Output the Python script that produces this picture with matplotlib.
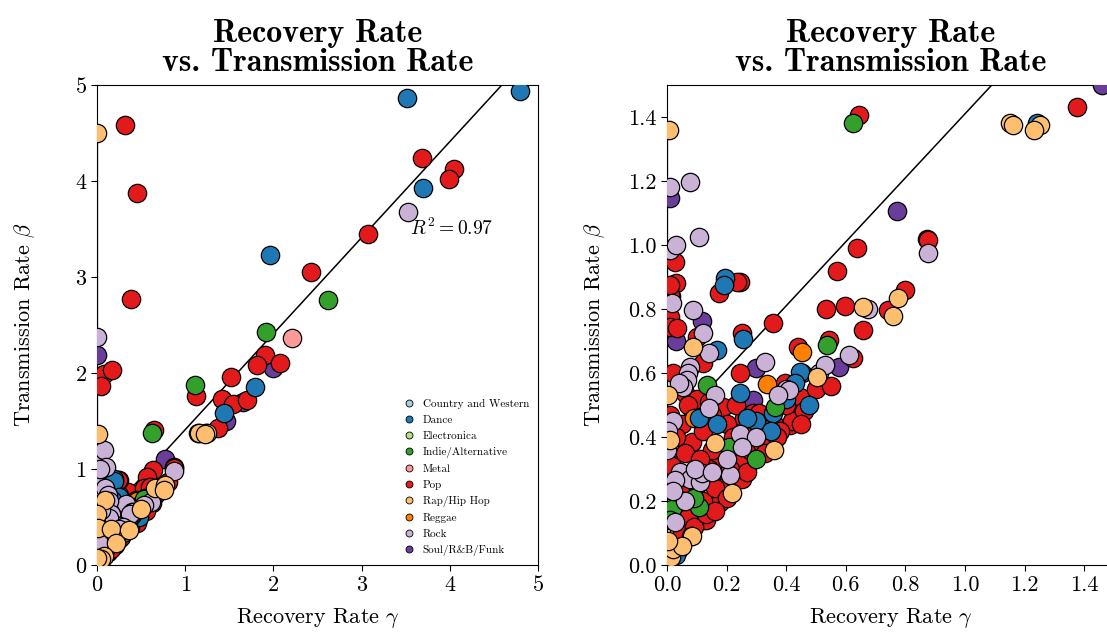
import matplotlib.pyplot as plt
from matplotlib.lines import Line2D

plt.rcParams['font.family'] = 'cmr10'
plt.rcParams['mathtext.fontset'] = 'cm'
plt.rcParams['axes.formatter.use_mathtext'] = True
plt.rcParams['axes.unicode_minus'] = False

# --- data: (gamma, beta) per genre ---
genres = ["Country and Western", "Dance", "Electronica", "Indie/Alternative", "Metal",
          "Pop", "Rap/Hip Hop", "Reggae", "Rock", "Soul/R&B/Funk"]
colors = ["#a6cee3", "#1f78b4", "#b2df8a", "#33a02c", "#fb9a99",
          "#e31a1c", "#fdbf6f", "#ff7f00", "#cab2d6", "#6a3d9a"]

country_gamma = [0.31, 0.02, 0.12]
country_beta = [0.353, 0.04, 0.14]

dance_gamma = [3.51, 4.80, 3.70, 1.96, 1.79, 1.44, 1.24, 0.195, 0.19, 0.255, 0.168, 0.453, 0.446,
               0.43, 0.245, 0.356, 0.477, 0.107, 0.168, 0.30, 0.35, 0.05, 0.40, 0.03, 0.27]
dance_beta = [4.86, 4.94, 3.93, 3.23, 1.85, 1.58, 1.38, 0.897, 0.875, 0.705, 0.672, 0.60, 0.603,
              0.568, 0.537, 0.474, 0.50, 0.459, 0.44, 0.45, 0.42, 0.20, 0.52, 0.03, 0.46]

electro_gamma = [0.005, 0.04]
electro_beta = [0.15, 0.10]

indie_gamma = [2.62, 1.92, 1.11, 0.624, 0.537, 0.134, 0.362, 0.208, 0.017, 0.107, 0.01, 0.09, 0.30]
indie_beta = [2.76, 2.43, 1.875, 1.38, 0.687, 0.563, 0.495, 0.37, 0.175, 0.18, 0.14, 0.21, 0.33]

metal_gamma = [2.21]
metal_beta = [2.36]

pop_gamma = [0.32, 0.45, 0.385, 3.68, 4.05, 3.99, 3.07, 2.43, 0.08, 0.17, 0.05, 1.90, 1.81, 2.07,
             1.12, 1.52, 1.42, 1.54, 1.70, 1.376, 0.644,
             0.872, 0.876, 0.637, 0.57, 0.356, 0.533, 0.597, 0.657, 0.80, 0.742, 0.544, 0.44,
             0.624, 0.245, 0.245, 0.25, 0.396, 0.027, 0.03, 0.013, 0.235, 0.176, 0.01, 0.01,
             0.10, 0.12, 0.01, 0.01,
             0.336, 0.29, 0.31, 0.188, 0.446, 0.413, 0.436, 0.42, 0.268, 0.178, 0.07, 0.13,
             0.034, 0.01, 0.084, 0.06, 0.088, 0.10, 0.07, 0.017, 0.05, 0.12, 0.15, 0.20, 0.22,
             0.18, 0.14, 0.10, 0.06, 0.20, 0.24, 0.28, 0.30, 0.26, 0.12, 0.16, 0.05, 0.09, 0.20,
             0.25, 0.32, 0.36, 0.38, 0.05, 0.03, 0.15, 0.11, 0.23, 0.40, 0.46, 0.50, 0.55, 0.45,
             0.04, 0.08, 0.13, 0.33, 0.37, 0.02, 0.21, 0.27, 0.16, 0.09, 0.035, 0.14]
pop_beta = [4.58, 3.87, 2.77, 4.24, 4.13, 4.02, 3.45, 3.05, 1.99, 2.03, 1.86, 2.19, 2.08, 2.10,
            1.76, 1.96, 1.73, 1.68, 1.72, 1.43, 1.405,
            1.02, 1.015, 0.99, 0.92, 0.756, 0.80, 0.81, 0.734, 0.86, 0.797, 0.703, 0.68,
            0.647, 0.884, 0.60, 0.725, 0.568, 0.947, 0.88, 0.84, 0.884, 0.85, 0.775, 0.743,
            0.713, 0.63, 0.845, 0.875,
            0.405, 0.474, 0.474, 0.495, 0.525, 0.438, 0.463, 0.45, 0.307, 0.197, 0.15, 0.14,
            0.063, 0.469, 0.385, 0.537, 0.49, 0.52, 0.50, 0.31, 0.44, 0.42, 0.47, 0.44, 0.40,
            0.33, 0.30, 0.25, 0.35, 0.25, 0.32, 0.36, 0.42, 0.46, 0.20, 0.24, 0.10, 0.12, 0.21,
            0.27, 0.38, 0.44, 0.42, 0.22, 0.40, 0.36, 0.33, 0.50, 0.50, 0.48, 0.55, 0.56, 0.44,
            0.05, 0.09, 0.16, 0.35, 0.40, 0.60, 0.30, 0.29, 0.17, 0.28, 0.74, 0.51]

rap_gamma = [0.0, 1.15, 1.25, 1.16, 1.23, 0.007, 0.657, 0.775, 0.758, 0.503, 0.088, 0.003, 0.01,
             0.16, 0.218, 0.084, 0.013, 0.36, 0.02, 0.05, 0.005]
rap_beta = [4.50, 1.38, 1.375, 1.375, 1.36, 1.36, 0.806, 0.834, 0.778, 0.587, 0.68, 0.53, 0.39,
            0.38, 0.225, 0.09, 0.025, 0.36, 0.05, 0.06, 0.075]

reggae_gamma = [0.453, 0.335, 0.09]
reggae_beta = [0.666, 0.566, 0.46]

rock_gamma = [3.53, 0.0, 0.876, 0.675, 0.61, 0.51, 0.53, 0.33, 0.40, 0.01, 0.077, 0.107, 0.01,
              0.017, 0.088, 0.12, 0.14, 0.077, 0.07, 0.067, 0.054, 0.16, 0.41, 0.373, 0.245,
              0.0, 0.21, 0.044, 0.077, 0.11, 0.027, 0.117, 0.094, 0.027, 0.02, 0.14, 0.20,
              0.30, 0.06, 0.15, 0.25, 0.005, 0.02, 0.03, 0.04]
rock_beta = [3.68, 2.375, 0.975, 0.80, 0.656, 0.60, 0.625, 0.634, 0.55, 1.18, 1.197, 1.025, 0.984,
             0.818, 0.797, 0.725, 0.662, 0.62, 0.60, 0.578, 0.556, 0.53, 0.547, 0.53, 0.41,
             0.36, 0.28, 0.29, 0.27, 0.26, 0.134, 0.287, 0.30, 0.265, 0.45, 0.49, 0.33,
             0.40, 0.20, 0.29, 0.37, 0.42, 0.23, 1.0, 0.57]

soul_gamma = [0.0, 2.00, 1.66, 1.46, 0.772, 0.01, 0.577, 0.30, 0.117, 0.003, 0.03, 0.29, 0.17,
              0.01, 0.01]
soul_beta = [2.19, 2.05, 1.70, 1.50, 1.106, 1.147, 0.62, 0.615, 0.763, 0.78, 0.70, 0.516, 0.26,
             0.32, 0.234]

gammas = [country_gamma, dance_gamma, electro_gamma, indie_gamma, metal_gamma,
          pop_gamma, rap_gamma, reggae_gamma, rock_gamma, soul_gamma]
betas = [country_beta, dance_beta, electro_beta, indie_beta, metal_beta,
         pop_beta, rap_beta, reggae_beta, rock_beta, soul_beta]

# order the genres are stacked in (index into genres), bottom first
draw_order = [0, 2, 4, 9, 5, 7, 1, 3, 8, 6]

fit_slope = 1.0
fit_intercept = 0.41
r2 = 0.97


def zero_top(beta_max):
    # tallest point sitting on gamma = 0 (within the visible range)
    return max(b for gs, bs in zip(gammas, betas) for g, b in zip(gs, bs)
               if g < 0.01 and b <= beta_max)


def draw(ax, lim, ticks, labels, width_px):
    ax.plot([0, 6], [fit_intercept, fit_intercept + 6 * fit_slope], color='k', lw=1.1, zorder=1)
    ax.plot([0, 0], [0, zero_top(lim)], color='k', lw=1.6, zorder=1)
    for i in draw_order:
        ax.scatter(gammas[i], betas[i], s=175, c=colors[i], edgecolors='k',
                   linewidths=0.9, zorder=3)
    ax.set_xlim(0, lim)
    ax.set_ylim(0, lim)
    ax.set_xticks(ticks)
    ax.set_yticks(ticks)
    ax.set_xticklabels(labels)
    ax.set_yticklabels(labels)
    ax.tick_params(direction='out', length=4, width=0.8, labelsize=16)
    ax.set_xlabel(r'Recovery Rate $\gamma$', fontsize=16, labelpad=8)
    ax.set_ylabel(r'Transmission Rate $\beta$', fontsize=16)
    ax.yaxis.set_label_coords(-60 / width_px, 0.5)
    ax.set_title('Recovery Rate\nvs. Transmission Rate', fontsize=23,
                 fontfamily='cmb10', pad=10, linespacing=1.0)


fig = plt.figure(figsize=(11.07, 6.32), dpi=100)
ax1 = fig.add_axes([97 / 1107, 67 / 632, 441 / 1107, 480 / 632])
ax2 = fig.add_axes([667 / 1107, 67 / 632, 447 / 1107, 480 / 632])

draw(ax1, 5, [0, 1, 2, 3, 4, 5], ['0', '1', '2', '3', '4', '5'], 441)
ax1.text(3.55, 3.44, r'$R^2 = %.2f$' % r2, fontsize=14, zorder=2)

draw(ax2, 1.5, [0.0, 0.2, 0.4, 0.6, 0.8, 1.0, 1.2, 1.4],
     ['0.0', '0.2', '0.4', '0.6', '0.8', '1.0', '1.2', '1.4'], 447)

handles = [Line2D([], [], marker='o', ls='none', markersize=5, markerfacecolor=c,
                  markeredgecolor='k', markeredgewidth=0.6) for c in colors]
ax1.legend(handles, genres, loc='lower right', fontsize=8, frameon=False,
           handletextpad=0.2, labelspacing=0.55, borderaxespad=0.4)

fig.savefig('out.png', dpi=100)
